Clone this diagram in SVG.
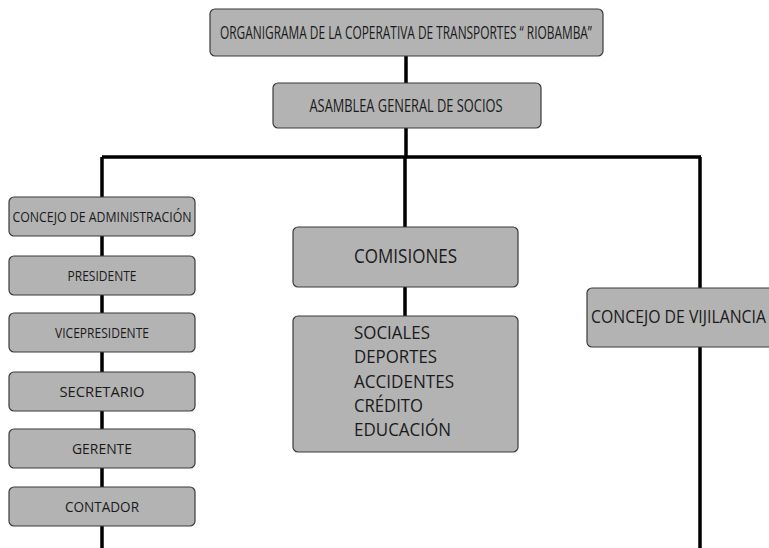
<svg xmlns="http://www.w3.org/2000/svg" width="769" height="548" viewBox="0 0 769 548">
<style>
.box{fill:#b3b3b3;stroke:#3a3a3a;stroke-width:1.2}
.t{font-family:"Open Sans","Liberation Sans",sans-serif;fill:#1a1a1a}
.c{text-anchor:middle}
.ln{fill:none;stroke:#000;stroke-width:3.5}
</style>
<rect width="769" height="548" fill="#fff"/>
<g id="connectors">
<path class="ln" d="M406 56V83M406 128V157M102 157H701M102 157V548M405 157V227M405 287V316M700 157V548"/>
</g>
<g id="title">
<rect class="box" x="210" y="9" width="393" height="47" rx="5"/>
<text class="t c" x="406" y="39" font-size="17.5" textLength="372" lengthAdjust="spacingAndGlyphs">ORGANIGRAMA DE LA COPERATIVA DE TRANSPORTES “ RIOBAMBA”</text>
</g>
<g id="asamblea">
<rect class="box" x="273" y="83" width="268" height="45" rx="5"/>
<text class="t c" x="406" y="112" font-size="18.5" textLength="193" lengthAdjust="spacingAndGlyphs">ASAMBLEA GENERAL DE SOCIOS</text>
</g>
<g id="concejo-admin">
<rect class="box" x="9" y="197" width="186" height="39" rx="5"/>
<text class="t c" x="102" y="222" font-size="15" textLength="179" lengthAdjust="spacingAndGlyphs">CONCEJO DE ADMINISTRACIÓN</text>
</g>
<g id="presidente">
<rect class="box" x="9" y="256" width="186" height="39" rx="5"/>
<text class="t c" x="102" y="281" font-size="14.5" textLength="69" lengthAdjust="spacingAndGlyphs">PRESIDENTE</text>
</g>
<g id="vicepresidente">
<rect class="box" x="9" y="313" width="186" height="39" rx="5"/>
<text class="t c" x="102" y="338" font-size="14.5" textLength="94" lengthAdjust="spacingAndGlyphs">VICEPRESIDENTE</text>
</g>
<g id="secretario">
<rect class="box" x="9" y="372" width="186" height="39" rx="5"/>
<text class="t c" x="102" y="397" font-size="14.5" textLength="85" lengthAdjust="spacingAndGlyphs">SECRETARIO</text>
</g>
<g id="gerente">
<rect class="box" x="9" y="429" width="186" height="39" rx="5"/>
<text class="t c" x="102" y="454" font-size="14.5" textLength="60" lengthAdjust="spacingAndGlyphs">GERENTE</text>
</g>
<g id="contador">
<rect class="box" x="9" y="487" width="186" height="39" rx="5"/>
<text class="t c" x="102" y="512" font-size="14.5" textLength="74" lengthAdjust="spacingAndGlyphs">CONTADOR</text>
</g>
<g id="comisiones">
<rect class="box" x="293" y="227" width="225" height="60" rx="5"/>
<text class="t" x="354" y="263" font-size="20" textLength="103" lengthAdjust="spacingAndGlyphs">COMISIONES</text>
</g>
<g id="comisiones-lista">
<rect class="box" x="293" y="316" width="225" height="136" rx="5"/>
<text class="t" x="354" y="339" font-size="19" textLength="76" lengthAdjust="spacingAndGlyphs">SOCIALES</text>
<text class="t" x="354" y="363" font-size="19" textLength="83" lengthAdjust="spacingAndGlyphs">DEPORTES</text>
<text class="t" x="354" y="388" font-size="19" textLength="100" lengthAdjust="spacingAndGlyphs">ACCIDENTES</text>
<text class="t" x="354" y="412" font-size="19" textLength="69" lengthAdjust="spacingAndGlyphs">CRÉDITO</text>
<text class="t" x="354" y="436" font-size="19" textLength="97" lengthAdjust="spacingAndGlyphs">EDUCACIÓN</text>
</g>
<g id="concejo-vigilancia">
<rect class="box" x="587" y="288" width="240" height="59" rx="5"/>
<text class="t" x="591" y="323" font-size="17.5" textLength="175" lengthAdjust="spacingAndGlyphs">CONCEJO DE VIJILANCIA</text>
</g>
</svg>
